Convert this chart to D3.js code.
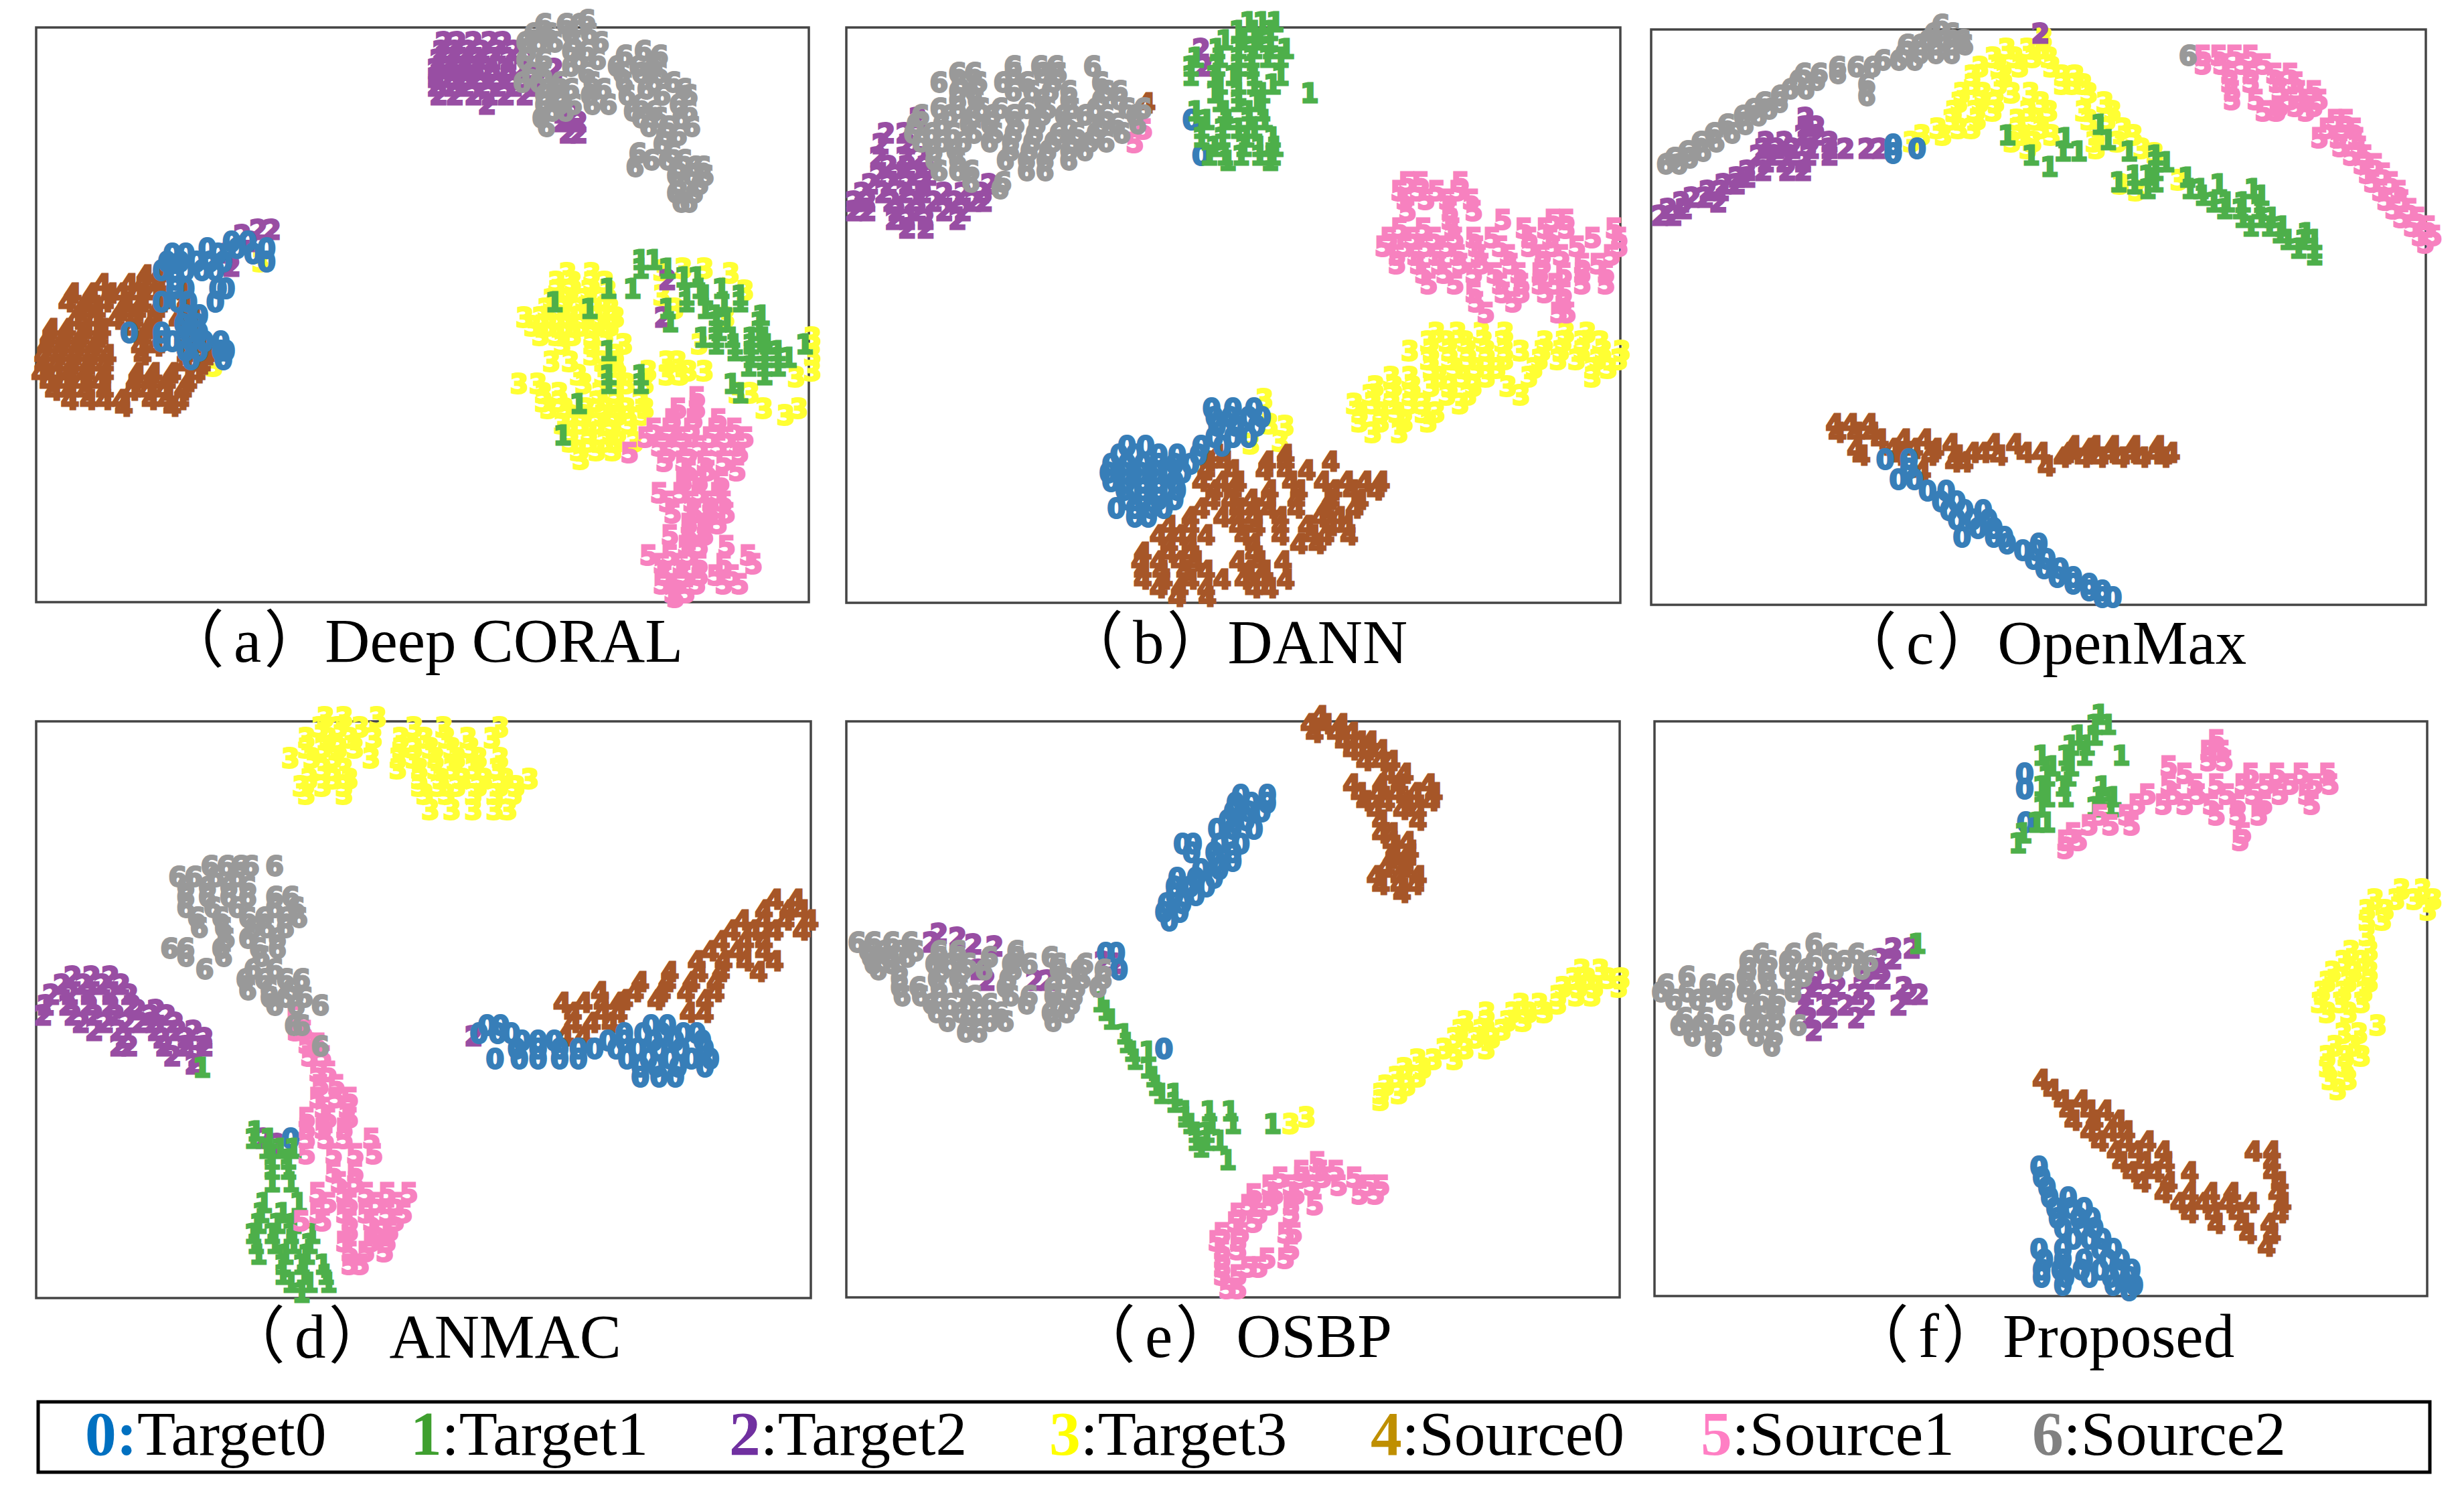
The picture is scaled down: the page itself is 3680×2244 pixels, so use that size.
<!DOCTYPE html>
<html><head><meta charset="utf-8"><style>html,body{margin:0;background:#fff}</style>
<script src="https://cdn.jsdelivr.net/npm/d3@7"></script></head><body><svg id="chart" width="3680" height="2244" xmlns="http://www.w3.org/2000/svg"></svg>
<script>
// Each row: [y, x, x, ...], in each panel's own plot units.
const classes=[0,1,2,3,4,5,6];
const colors=["#377eb8","#4daf4a","#984ea3","#ffff33","#a65628","#f781bf","#999999"];
const legendColors=["#0070c0","#3f9f2f","#7030a0","#ffff00","#bf8f00","#ff7fc4","#808080"];
const legendNames=["Target0","Target1","Target2","Target3","Source0","Source1","Source2"];
const drawOrder=[3,2,4,0,1,5,6];

const A0=[[545,430,460],[560,385,440,495],[572,320,345,405,470],[590,310,335,365,390,415,495],[610,300,325,345,375,400],[630,325],[650,325,345,405,420],[680,300,330,350,400],[710,345,370],[730,340,365],[750,240,300,350,370],[770,300,320,355,380,410],[790,345,370,410,420],[810,355,415]];
const A1=[[585,1190,1215],[605,1240,1190],[625,1270,1295],[650,1130,1175,1300,1340],[665,1275,1310,1375],[680,1030,1275,1345,1375],[695,1095,1310,1240],[710,1330,1415],[725,1245,1330,1350,1410],[745,1335,1410],[760,1305,1330,1360,1395,1420],[775,1330,1365,1495,1395,1425],[790,1130,1365,1395,1420,1445],[805,1395,1420,1445,1465],[825,1390,1420,1445],[845,1190,1130,1420],[865,1360,1190,1130],[885,1375],[910,1075],[980,1045]];
const A2=[[95,825,850,880,910,935],[115,820,845,870,895,925,955],[135,815,840,865,890,915,945,980],[155,810,835,860,885,910,940,970,1030],[175,810,835,860,885,915,945,1000],[195,810,840,865,895,925,955,990],[215,815,845,880,910,940,975],[235,905],[255,1045,1065],[275,1045,1075],[300,1055,1075],[518,480,505],[530,450],[545,465],[570,425],[600,430],[630,1240],[715,1232]];
const A3=[[590,485],[605,1270,1310],[610,1230],[615,1055,1100,1358],[635,1035,1065,1100,1125],[655,1035,1060,1095,1130,1385],[665,1230],[675,1025,1050,1085,1120],[695,1015,1045,1075,1105,1135,1255],[715,975,1005,1035,1060,1090,1120,1145,1350],[735,990,1020,1050,1080,1110,1135],[755,1005,1035,1065,1100,1125],[760,1510],[775,1045,1100,1160,1300],[800,1510,1100,1145],[815,1025,1060,1120,1145,1240,1260],[825,398],[835,1510,1205,1280,1310],[845,1075,1120,1150,1240,1265],[850,1480],[865,965,1000,1085,1145,1200,1165],[885,1010,1040,1115,1145,1370,1395],[905,1010,1040,1110,1145,1190],[920,1020,1050,1090,1125,1165,1200,1420,1485],[935,1060,1085,1120,1150,1195,1460],[955,1045,1080,1110,1140,1170],[975,1060,1095,1135],[995,1060,1095,1125,1150,1180],[1015,1075,1110,1140],[1035,1080]];
const A4=[[620,270,295],[640,190,240,265,295],[660,135,170,205,225,255,285,345],[680,125,160,195,235,265,300,345],[700,150,180,225,255,290,340],[720,140,175,215,250,285,330,360],[740,95,125,160,190,245,275,345],[760,90,120,150,185,265,340,365],[780,85,115,145,175,260,290,345,380],[800,80,110,140,170,200,265,345,385],[820,80,105,135,165,195,345,375],[840,75,105,130,160,195,255,285,320,365],[860,90,120,150,185,250,280,310,350],[880,100,130,160,195,245,275,305,340],[900,130,165,195,225,280,310,335],[915,230,320]];
const A5=[[895,1295],[920,1260,1295],[945,1250,1290,1335],[965,1215,1245,1285,1330,1365],[985,1200,1235,1270,1320,1350,1385],[1005,1225,1260,1300,1335,1370],[1020,1170,1240,1280,1375],[1040,1235,1270,1310,1345],[1060,1280,1315,1370],[1085,1270,1300,1340],[1110,1225,1265,1300,1335],[1130,1240,1285,1320,1345],[1155,1250,1290,1320,1350],[1180,1280,1310,1335],[1205,1245,1280,1310],[1230,1275,1300,1350],[1250,1205,1245,1280,1390],[1270,1230,1265,1300,1345,1400],[1295,1235,1270,1300,1330,1360],[1315,1230,1260,1295,1345,1375],[1335,1250,1275],[1345,1255]];
const A6=[[45,1090],[55,1010,1050,1075],[75,990,1020,1060,1095],[95,975,1000,1030,1065,1115],[115,980,1060,1090,1195],[125,1160,1225],[135,975,1010,1075,1110],[150,1060,1145,1185,1215],[165,985,1010,1090,1155,1190,1225],[185,970,1000,1040,1100,1160,1215,1250],[200,1030,1060,1120,1200,1270],[215,1010,1040,1095,1165,1230,1280],[235,1010,1040,1065,1100,1130,1190,1260],[250,1025,1050,1175,1215,1280],[265,1005,1190,1225,1265],[285,1015,1205,1240,1285],[305,1235,1260],[325,1230],[345,1185,1250],[360,1210,1240,1270],[375,1180,1260,1290,1305],[395,1255,1285,1310],[415,1260,1300],[435,1255,1290],[455,1280,1265]];

const B0=[[920,720,760,800],[940,725,755,790,815],[960,730,765,805],[985,725,760,790],[1005,700,740,595,560],[1025,545,575,620,655,695],[1045,530,560,590,620,650,680],[1065,525,555,585,615,640,665],[1085,530,560,590,620,650],[1105,555,590,620,655],[1125,560,590,620,650],[1145,540,575,605,630],[1165,575,600],[270,682],[350,700]];
const B1=[[50,790,815,840],[70,770,800,830],[90,745,780,810,830],[110,730,770,800,830,860],[130,690,735,770,795,825,850],[150,680,730,770,795],[170,680,725,760,800,850],[190,735,770,800,835],[210,725,770,815,905],[230,735,770,805],[250,690,745,790,815],[270,710,750,790,820],[290,700,740,770,800],[310,700,740,785,835],[330,725,780,810,840],[350,715,745,775,810,835],[362,750,830]];
const B2=[[265,165],[300,105,140],[325,95,145],[355,90,140,170],[375,110,145,180],[395,90,125,160,185],[415,75,110,145,175,300],[435,60,100,140,175,215,250,285],[455,45,70,115,155,195,235,270,290],[475,45,70,125,165,215,250],[495,120,145,180,240],[515,145,180],[110,700],[150,705]];
const B3=[[750,1145,1185,1230,1275,1390,1430],[770,1130,1165,1200,1235,1270,1350,1385,1420,1455],[790,1095,1135,1170,1205,1240,1275,1305,1345,1380,1420,1460,1495],[810,1130,1170,1205,1240,1275,1340,1375,1410,1450,1490],[830,1135,1180,1220,1260,1330,1440,1470],[850,1060,1095,1150,1195,1240,1320,1440],[870,1030,1065,1100,1135,1170,1215,1280],[890,1020,1060,1095,1165,1205,1305],[910,990,1025,1060,1095,1120,1190],[930,1000,1040,1070,1120,1145],[950,1000,1040,1085,1130],[975,1025,1075],[900,820],[955,830],[960,860],[995,850],[1000,795]];
const B4=[[1025,730,860],[1040,715,745,825,860,945],[1060,710,760,820,860,900],[1085,700,740,770,870,930,975,1010,1040],[1105,725,760,830,885,950,985,1030],[1125,720,755,795,825,880,945,1000],[1145,700,770,800,830,880,935,990],[1165,680,740,770,800,850,925,960],[1185,640,680,770,805,850,900,945,975],[1205,620,660,710,780,850,910,935,980],[1225,640,680,800,885,920],[1245,590,640,680,800],[1265,585,620,660,690,770,810,855],[1285,590,625,670,710,790,820],[1305,590,630,680,740,780,815,860],[1325,620,660,710,800,830],[1345,655,712],[232,597]];
const B5=[[410,1090,1115,1190],[430,1075,1110,1145,1185],[450,1085,1125,1165,1210],[475,1090,1170,1215],[495,1170,1270,1365,1390],[515,1075,1120,1175,1310,1350,1390,1480],[535,1055,1100,1140,1180,1215,1250,1320,1360,1440,1490],[555,1045,1085,1125,1165,1220,1265,1320,1365,1410,1490],[575,1070,1105,1145,1185,1225,1280,1345,1380,1475],[595,1070,1110,1150,1190,1230,1285,1345,1420,1450],[615,1120,1160,1215,1255,1300,1340,1385,1420,1465],[640,1130,1180,1265,1305,1340,1370,1420,1465],[660,1215,1270,1305,1350,1385],[680,1220,1290,1385],[705,1238,1375,1392],[322,575],[292,592]];
const B6=[[150,345,395,425,495],[165,240,270,345,400,430],[185,205,245,280,325,370,420,510],[205,240,270,345,380,415,450,520,545],[225,240,275,400,450,510,545],[245,205,240,285,320,370,410,455,500,560,590],[260,170,225,270,305,345,400,440,480,520,575],[280,160,210,260,300,350,390,450,510,540,580],[300,155,190,230,270,310,345,385,430,465,500,550],[320,170,210,250,300,340,380,420,455,490,520],[340,195,235,340,375,410,450,480],[360,195,240,330,370,405,450],[385,205,240,265,370,405],[410,265,325],[425,320]];

const C0=[[325,490],[335,535],[345,490],[1035,475,520],[1055,520],[1080,500,530],[1105,555,590],[1130,580,610],[1150,595,625,660],[1170,610,640,670],[1190,650,680],[1210,620,680,700],[1225,705,765],[1240,735,760],[1260,755,780],[1280,775,805],[1300,800,830],[1315,830,860],[1330,860,885],[1345,885,905]];
const C1=[[280,880],[305,705],[310,815],[315,895],[340,810,840,935],[350,750,985],[365,985,1005],[375,785],[385,985],[395,945,970],[400,1045],[410,915,985],[415,945,1105],[425,1050,1070,1170,970],[440,1075,1185],[455,1095,1120,1150],[470,1115,1145,1180],[490,1150,1185,1205],[510,1165,1200,1225],[525,1220,1270],[540,1235,1265,1285],[560,1255,1285],[575,1285]];
const C2=[[75,768],[265,325],[285,325,345],[305,320,345],[320,250,285,370],[335,245,270,300,335,370,400,440,465],[350,235,265,295,330,370],[365,250,285,320],[385,215,245,290,320],[400,195,215],[415,170,195],[430,140,165],[445,110,135],[455,90,160],[470,65,95],[485,50,75]];
const C3=[[85,775],[110,705,745,770],[130,680,720,755,785],[150,655,690,730,790],[170,640,700,835,810],[190,640,690,850,810,830],[210,620,660,715,750,860],[230,615,655,685,770,890],[250,605,645,680,745,785,850,905],[270,600,650,725,760,860,895],[290,575,615,640,725,770,925],[305,545,585,735,790,875,945],[320,525,715,755,915,870],[335,875,960,745],[345,985],[405,1030],[415,920],[430,950]];
const C4=[[955,380,410,445],[975,385,420,450],[990,465,510,550],[1000,600,680,720],[1005,830,870,905,945,990],[1010,420,490,530,570,860],[1020,640,660,740,770,820,900,940,985,1015],[1025,430,500,560,610,690],[1030,810,850,880,920,960,1000],[1040,605,625],[1050,780],[1060,545]];
const C5=[[125,1075,1105,1135,1165],[145,1075,1110,1150,1190],[165,1125,1165,1210,1240],[185,1125,1165,1215,1250],[205,1130,1220,1255,1285],[225,1130,1175,1240,1270,1295],[240,1285,1220,1250],[250,1215,1270,1190],[270,1325,1345],[290,1310,1340,1360],[310,1295,1330,1365],[330,1335,1370],[350,1355,1380],[370,1375,1400],[390,1385,1415],[410,1395,1430],[430,1410,1445],[450,1420,1450],[470,1435,1465],[490,1450,1480],[510,1470,1500],[530,1485,1510],[548,1495]];
const C6=[[55,580],[75,565,600],[90,555,585,620],[100,515,540,570,600,625],[120,510,540,570,600],[125,1047],[135,470,500,530],[150,385,420,450],[165,350,385,320],[180,310,345],[190,440],[200,295,325],[215,275,440],[230,245,275],[245,225,255],[260,205,235],[280,175,210],[300,150,185],[320,125,155],[340,100,130],[355,75,105],[370,60,85]];

const D0=[[640,905,930,1210,1240],[655,890,925,950,1160,1195,1230,1270,1295],[670,970,1000,1030,1130,1160,1215,1255,1305],[685,960,1000,1040,1075,1105,1145,1185,1225,1265,1310],[705,920,965,1000,1040,1075,1165,1205,1245,1285,1320],[720,1190,1220,1260,1310],[740,1225,1190,1255],[860,540]];
const D1=[[845,475],[860,470,500],[880,495,520,545],[900,505,535],[920,505,535],[945,505,540],[985,490,555],[1005,485,525],[1025,480,515,545],[1045,470,505,540,580],[1065,475,510,545,575],[1085,480,530,570],[1105,525,560,600],[1125,525,565,605],[1140,540,575,610],[1160,560],[722,375]];
const D2=[[545,135,170,205],[560,115,155,190,225],[580,95,130,165,205,240],[600,85,125,165,205,245],[610,255,290],[620,80,135,175,215,280,310],[635,150,195,235,260,285,325],[650,175,220,290,330,360],[665,230,300,345,380],[680,220,240,305,345,380],[700,320,365],[715,360],[660,880],[860,490],[870,515]];
const D3=[[40,640,605,702],[60,595,630,670,770,825,930],[80,570,610,650,695,745,790,830,870,915],[100,570,600,630,660,745,770,800,840,875],[120,540,580,620,690,740,770,810,850,890,930],[140,600,640,740,780,810,840,880,925],[160,575,620,650,780,820,860,900,940,985],[175,560,600,640,780,815,850,890,930,960],[190,570,640,790,830,880,920,955],[220,800,840,880,920,945]];
const D4=[[395,1440,1480],[415,1420,1465,1490],[435,1380,1420,1460,1505],[455,1360,1400,1440,1490],[475,1340,1385,1420],[495,1320,1370,1420],[515,1295,1345,1385,1440],[535,1245,1300,1340,1410],[555,1190,1240,1285,1330],[575,1115,1180,1230,1275,1330],[590,1160,1220,1310],[595,1045,1085,1120,1150],[615,1065,1120,1150,1280,1310],[635,1065,1100,1135],[660,1050,1085]];
const D5=[[620,548],[650,550,565],[675,570,590],[700,575,600],[730,590,610],[755,595,625],[780,590,625,650],[800,600,645],[820,570,610,650],[840,570,600,640],[860,570,605,640,690],[890,570,620,660,695],[925,620,660],[945,630,660],[965,590,640,680,720,760],[985,610,650,700,735],[1005,590,640,680,720,750],[1020,560,600,650,690,735],[1040,650,700,725],[1060,640,690,720],[1080,650,680,715],[1105,670,650]];
const D6=[[330,390,420,445,465,510],[350,330,360,400,440],[370,345,385,425,460],[390,345,385,425,460,510,540],[410,345,395,440,510,550],[430,365,410,460,490,530,555],[450,370,415,470,495,530],[470,420,460,515],[490,315,345,410,480,515],[505,345,415,485],[530,380,470,510],[550,455,490,530,560],[570,460,500,540],[585,500,530,565],[600,510,595,550],[640,545,560],[680,595]];

const E0=[[230,775,825],[250,765,795,825],[270,760,790,815],[290,750,785],[310,730,760,800],[330,755],[345,665,685,735,775],[365,682,725,760],[385,730,760],[405,700,735],[425,655,690,725],[445,650,680,710],[465,650,690],[485,635,665],[505,630,660],[525,640],[600,520,540],[640,545],[825,630]];
const E1=[[715,510],[735,520],[755,530],[790,555],[810,560],[830,570,600],[850,575],[870,600],[890,610],[910,615],[930,625,650],[950,650],[970,670,715,755],[985,670],[1000,680,720,760,835],[1020,690,710],[1040,690,710,735],[1055,700],[1085,750]];
const E2=[[555,205],[565,240],[575,190],[580,270],[585,310],[620,515],[625,540],[640,280],[665,295,385,410]];
const E3=[[640,1420,1455],[660,1405,1430,1470,1495],[680,1385,1415,1445,1490],[700,1375,1410,1440],[720,1340,1375,1305],[740,1240,1290,1320,1350],[760,1200,1240,1280,1310],[780,1190,1230,1270],[800,1180,1220,1250],[825,1160,1200,1240],[850,1110,1140,1180],[870,1085,1120],[890,1070,1110],[910,1050,1090],[930,1040,1075],[945,1040],[985,900],[1000,870]];
const E4=[[45,925],[65,905,935,965],[85,915,955,985],[105,970,1000,1020],[125,985,1015,1040],[150,1010,1040,1060],[180,1055,1085],[205,985,1040,1075,1130],[225,1000,1035,1070,1105,1140],[245,1010,1050,1090,1135],[265,1030,1080,1110],[290,1040,1110],[320,1060,1040],[340,1060,1090],[360,1065,1095],[380,1060,1090],[400,1050,1085],[420,1030,1075,1110],[440,1040,1075,1105],[460,1080]];
const E5=[[1090,920],[1110,890,925,955],[1125,850,890,930,990],[1145,830,870,910,960,1015,1040],[1165,800,840,880,1000,1030],[1190,790,830,870,915],[1210,770,810,870],[1230,765,800],[1255,740,775,860,875],[1275,730,770],[1295,740,770,870],[1315,740,825,860],[1335,740,790,810],[1355,740,770],[1385,750,770]];
const E6=[[575,50,80,115,150],[595,70,100,130,160,205,240,350],[610,75,110,145,205,240,300,350,415],[625,80,115,195,225,260,340,375,430,480],[640,90,130,210,250,290,345,430,470,515],[660,130,200,240,335,440,475,515],[680,130,165,205,245,330,420,465,505],[700,135,170,205,270,340,375,420,460],[720,190,225,260,300,370,430,455],[740,200,245,280,320,415,445],[760,220,260,300,330,420],[785,255,280]];

const F0=[[150,738],[180,738],[245,740],[915,765],[935,770],[955,780],[975,785,820],[995,795,825,850],[1015,800,840,865],[1035,810,845,870],[1055,830,860,885],[1075,765,810,880,905],[1095,775,810,850,895,920],[1115,770,805,845,880,915,940],[1130,770,815,860,900,935],[1145,810,905,945],[1155,935]];
const F1=[[35,880],[55,870,895],[75,840,870],[95,825,855],[115,770,815,850,920],[135,790,825],[155,780,820],[175,770,810,885],[195,780,815,880,905],[215,770,870,900],[245,760,780],[265,735],[285,725],[480,535]];
const F2=[[490,490,525],[510,465,490],[530,460],[550,345,440,470],[565,340,385,430,510],[580,325,370,420,520,540],[600,320,360,400,440,500],[625,330,370,420],[650,340]];
const F3=[[375,1450,1490],[395,1400,1440,1475,1510],[415,1385,1420,1500],[435,1385,1415],[465,1385],[495,1355,1390],[515,1340,1375],[535,1320,1360,1390],[555,1310,1350,1390],[575,1300,1340,1380],[595,1295,1335,1375],[615,1310,1350],[640,1405],[655,1340,1370],[680,1325,1360],[700,1310,1345,1375],[720,1310,1345],[745,1315,1350],[765,1330]];
const F4=[[745,770],[765,790],[785,810,845],[805,820,860,890],[825,830,870,915],[845,860,900,930],[865,880,930,970],[885,910,950,1000,1170,1205],[905,920,965,1005,1205],[925,940,985,1050,1205],[945,960,1010,1220],[965,1000,1050,1090,1130,1215],[985,1030,1075,1120,1165,1225],[1005,1050,1095,1140,1220],[1025,1100,1150,1200],[1045,1160,1205],[1070,1195]];
const F5=[[85,1100],[105,1085,1110],[125,1085,1115],[135,1010],[150,1040,1165,1215,1260,1310],[170,1010,1060,1100,1150,1195,1240,1285,1315],[190,970,1020,1065,1120,1170,1220,1270],[210,950,1000,1040,1090,1140,1190,1280],[230,880,930,1100,1140,1180],[250,860,900,940],[265,830,1150],[280,815,840,1145],[295,815]];
const F6=[[480,340],[500,240,300,370,420],[515,215,255,290,340,395,445],[530,215,250,290,325,380,430],[545,100,210,250,320],[560,60,140,175,215,255,300],[575,50,100,140,170,210,300],[590,75,120,170,240,270],[610,225,265],[625,95,135,235,270],[640,85,125,175,215,250,310],[660,110,150,230,265],[680,150,260]];

const panels=[
 {series:[A0,A1,A2,A3,A4,A5,A6],dx:[67,1503],dy:[62,1356],rx:[54,1208],ry:[41,899],cap:"a",name:"Deep CORAL",tx:242,by:988},
 {series:[B0,B1,B2,B3,B4,B5,B6],dx:[30,1492],dy:[62,1358],rx:[1264,2420],ry:[41,900],cap:"b",name:"DANN",tx:1585,by:990},
 {series:[C0,C1,C2,C3,C4,C5,C6],dx:[33,1496],dy:[66,1362],rx:[2466,3623],ry:[44,903],cap:"c",name:"OpenMax",tx:2740,by:991},
 {series:[D0,D1,D2,D3,D4,D5,D6],dx:[67,1507],dy:[48,1170],rx:[54,1211],ry:[1077,1938],cap:"d",name:"ANMAC",tx:333,by:2027},
 {series:[E0,E1,E2,E3,E4,E5,E6],dx:[30,1491],dy:[58,1406],rx:[1264,2419],ry:[1077,1937],cap:"e",name:"OSBP",tx:1603,by:2026},
 {series:[F0,F1,F2,F3,F4,F5,F6],dx:[39,1498],dy:[48,1166],rx:[2471,3625],ry:[1077,1935],cap:"f",name:"Proposed",tx:2758,by:2026}
];
const legendX=[127,613,1089,1567,2047,2540,3035];

const svg=d3.select("#chart");
svg.append("rect").attr("width",3680).attr("height",2244).attr("fill","#fff");
const serif='"Liberation Serif","Noto Sans CJK SC",serif';

panels.forEach(p=>{
  const x=d3.scaleLinear().domain(p.dx).range(p.rx), y=d3.scaleLinear().domain(p.dy).range(p.ry);
  svg.append("rect").attr("x",p.rx[0]).attr("y",p.ry[0]).attr("width",p.rx[1]-p.rx[0]).attr("height",p.ry[1]-p.ry[0])
     .attr("fill","none").attr("stroke","#444").attr("stroke-width",3.5);
  const g=svg.append("g").attr("font-family","DejaVu Sans").attr("font-weight","bold").attr("font-size",39).attr("text-anchor","middle");
  drawOrder.forEach(k=>{
    const pts=p.series[k].flatMap(r=>r.slice(1).map(v=>[v,r[0]]));
    g.selectAll(null).data(pts).enter().append("text")
      .attr("transform",d=>`translate(${x(d[0])},${y(d[1])+14}) scale(1,1)`)
      .attr("fill",colors[k]).attr("stroke",colors[k]).attr("stroke-width",3).text(classes[k]);
  });
  const t=svg.append("text").attr("x",p.tx).attr("y",p.by).attr("font-family",serif).attr("font-size",93).attr("fill","#000");
  t.append("tspan").text("（");
  t.append("tspan").attr("dx",14).text(p.cap);
  t.append("tspan").attr("dx",4).text("）");
  t.append("tspan").attr("dx",-2).text(p.name);
});

svg.append("rect").attr("x",57).attr("y",2093).attr("width",3572).attr("height",105).attr("fill","none").attr("stroke","#000").attr("stroke-width",5);
classes.forEach((k,i)=>{
  const t=svg.append("text").attr("x",legendX[i]).attr("y",2172).attr("font-family",serif).attr("font-size",93.5).attr("fill","#000");
  t.append("tspan").attr("font-weight","bold").attr("fill",legendColors[i]).text(k);
  t.append("tspan").attr("font-weight",i==0?"bold":"normal").attr("fill",i==0?legendColors[0]:"#000").text(":");
  t.append("tspan").text(legendNames[i]);
});
</script></body></html>
